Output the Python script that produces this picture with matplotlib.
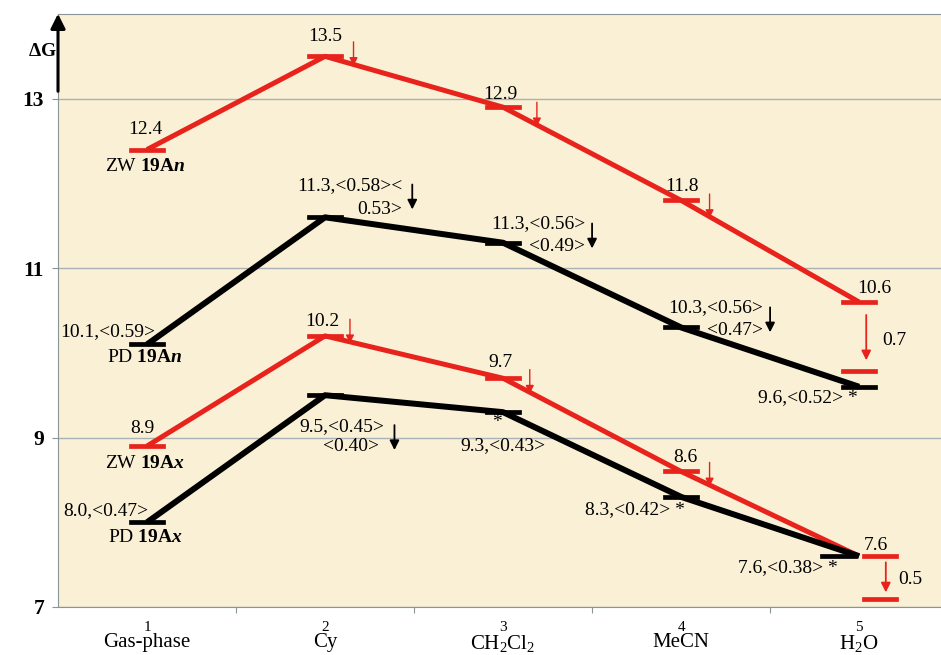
import matplotlib
matplotlib.use("Agg")
import matplotlib.pyplot as plt
import numpy as np

plt.rcParams['font.family'] = 'Liberation Serif'
plt.rcParams['mathtext.fontset'] = 'custom'
plt.rcParams['mathtext.rm'] = 'Liberation Serif'
plt.rcParams['mathtext.it'] = 'Liberation Serif:italic'
plt.rcParams['mathtext.bf'] = 'Liberation Serif:bold'
plt.rcParams['mathtext.bfit'] = 'Liberation Serif:italic:bold'

# data
steps = [1, 2, 3, 4, 5]
solvents = ['Gas-phase', 'Cy', 'CH$_2$Cl$_2$', 'MeCN', 'H$_2$O']
zw_an = [12.4, 13.5, 12.9, 11.8, 10.6]
pd_an = [10.1, 11.6, 11.3, 10.3, 9.6]
zw_ax = [8.9, 10.2, 9.7, 8.6, 7.6]
pd_ax = [8.0, 9.5, 9.3, 8.3, 7.6]
gap_an = 0.7   # ZW 19An -> lower level in water
gap_ax = 0.5   # ZW 19Ax -> lower level in water

RED = '#E8231C'
BG = '#FAF0D6'

fig = plt.figure(figsize=(9.41, 6.55), dpi=100)
ax = fig.add_axes([58 / 941, 48 / 655, 883 / 941, 593 / 655])
ax.set_facecolor(BG)
ax.set_xlim(0.5, 5.46)
ax.set_ylim(7, 14)

# level bars (short horizontal strokes) + connecting lines
def series(vals, color, lw, offsets=None):
    x = np.array(steps, dtype=float)
    ax.plot(x, vals, color=color, lw=lw, solid_capstyle='butt', zorder=3)
    off = offsets if offsets is not None else [0] * len(vals)
    for xi, yi, o in zip(x, vals, off):
        ax.plot([xi + o - 0.09, xi + o + 0.09], [yi, yi], color=color, lw=3.4, zorder=4)

series(zw_an, RED, 3.6)
series(pd_an, 'black', 4.3)
series(zw_ax, RED, 3.6, [0, 0, 0, 0, 0.12])
series(pd_ax, 'black', 4.3, [0, 0, 0, 0, -0.12])

# lower levels in water
ax.plot([4.91, 5.09], [zw_an[4] - gap_an - 0.12] * 2, color=RED, lw=3.4)
ax.plot([5.03, 5.21], [zw_ax[4] - gap_ax] * 2, color=RED, lw=3.4)
ax.annotate('', xy=(5.04, zw_an[4] - gap_an - 0.02), xytext=(5.04, zw_an[4] - 0.12),
            arrowprops=dict(arrowstyle='-|>', color=RED, lw=1.3, mutation_scale=14))
ax.annotate('', xy=(5.15, zw_ax[4] - gap_ax + 0.04), xytext=(5.15, zw_ax[4] - 0.04),
            arrowprops=dict(arrowstyle='-|>', color=RED, lw=1.3, mutation_scale=14))
ax.text(5.13, zw_an[4] - gap_an / 2 - 0.1, f'{gap_an}', fontsize=14, va='center')
ax.text(5.22, zw_ax[4] - gap_ax / 2 - 0.02, f'{gap_ax}', fontsize=14, va='center')

# small red arrows on ZW curves
def red_arrow(vals, i, dx):
    y = vals[i] + (vals[i + 1] - vals[i]) * dx
    ax.annotate('', xy=(steps[i] + dx, y - 0.05), xytext=(steps[i] + dx, y + 0.3),
                arrowprops=dict(arrowstyle='-|>', color=RED, lw=1.0, mutation_scale=12),
                zorder=5)

for i, dx in [(1, 0.16), (2, 0.19), (3, 0.16)]:
    red_arrow(zw_an, i, dx)
for i, dx in [(1, 0.14), (2, 0.15), (3, 0.16)]:
    red_arrow(zw_ax, i, dx)

# black arrows next to labels
def black_arrow(x, ytop):
    ax.annotate('', xy=(x, ytop - 0.36), xytext=(x, ytop),
                arrowprops=dict(arrowstyle='-|>', color='black', lw=1.3, mutation_scale=14))

black_arrow(2.49, pd_an[1] + 0.42)
black_arrow(3.5, pd_an[2] + 0.26)
black_arrow(4.5, pd_an[3] + 0.27)
black_arrow(2.39, pd_ax[1] - 0.32)

fs = 14

def lab(x, y, s, dx, dy, ha='center', **kw):
    ax.annotate(s, (x, y), xytext=(dx, dy), textcoords='offset pixels',
                ha=ha, va='center', fontsize=fs, **kw)

# ZW 19An labels
lab(1, zw_an[0], '12.4', -2, 20)
lab(1, zw_an[0], r'ZW $\mathbf{19A}\mathbfit{n}$', -2, -17)
lab(2, zw_an[1], '13.5', 0, 20)
lab(3, zw_an[2], '12.9', -3, 13)
lab(4, zw_an[3], '11.8', 1, 14)
lab(5, zw_an[4], '10.6', 15, 14)

# PD 19An labels
lab(1, pd_an[0], '10.1,<0.59>', 8, 13, ha='right')
lab(1, pd_an[0], r'PD $\mathbf{19A}\mathbfit{n}$', -2, -13)
lab(2, pd_an[1], '11.3,<0.58><', 77, 32, ha='right')
lab(2, pd_an[1], '0.53>', 77, 8, ha='right')
lab(3, pd_an[2], '11.3,<0.56>', 82, 19, ha='right')
lab(3, pd_an[2], '<0.49>', 82, -4, ha='right')
lab(4, pd_an[3], '10.3,<0.56>', 82, 20, ha='right')
lab(4, pd_an[3], '<0.47>', 82, -3, ha='right')
lab(5, pd_an[4], '9.6,<0.52> *', -1, -11, ha='right')

# ZW 19Ax labels
lab(1, zw_ax[0], '8.9', -5, 18)
lab(1, zw_ax[0], r'ZW $\mathbf{19A}\mathbfit{x}$', -2, -17)
lab(2, zw_ax[1], '10.2', -3, 14)
lab(3, zw_ax[2], '9.7', -3, 16)
lab(4, zw_ax[3], '8.6', 4, 14)
lab(5, zw_ax[4], '7.6', 17, 11)

# PD 19Ax labels
lab(1, pd_ax[0], '8.0,<0.47>', 1, 12, ha='right')
lab(1, pd_ax[0], r'PD $\mathbf{19A}\mathbfit{x}$', -2, -15)
lab(2, pd_ax[1], '9.5,<0.45>', 59, -31, ha='right')
lab(2, pd_ax[1], '<0.40>', 54, -51, ha='right')
lab(3, pd_ax[2], '*', -6, -10)
lab(3, pd_ax[2], '9.3,<0.43>', 42, -33, ha='right')
lab(4, pd_ax[3], '8.3,<0.42> *', 4, -13, ha='right')
lab(5, pd_ax[4], '7.6,<0.38> *', -21, -11, ha='right')

# axes styling
ax.set_yticks([7, 9, 11, 13])
ax.set_yticklabels(['7', '9', '11', '13'], fontsize=15.5, fontweight='bold')
ax.yaxis.grid(True, color='#A9B3B5', lw=1.0)
ax.set_axisbelow(True)
ax.set_xticks([1.5, 2.5, 3.5, 4.5])
ax.set_xticklabels([])
ax.tick_params(axis='x', length=4, color='#8A9496')
ax.tick_params(axis='y', length=4, color='#8A9496', pad=6)
for sp in ['left', 'top', 'bottom']:
    ax.spines[sp].set_color('#8A9496')
ax.spines['right'].set_visible(False)

for s, name in zip(steps, solvents):
    ax.text(s, -0.023, str(s), transform=ax.get_xaxis_transform(),
            ha='center', va='top', fontsize=11)
    ax.text(s, -0.044, name, transform=ax.get_xaxis_transform(),
            ha='center', va='top', fontsize=15)

# y axis arrow and label
ax.annotate('', xy=(0, 1.005), xytext=(0, 0.865), xycoords='axes fraction',
            arrowprops=dict(arrowstyle='-|>', color='black', lw=2.2, mutation_scale=22))
fig.text(42 / 941, 1 - 52 / 655, r'$\mathbf{\Delta}$G', fontsize=14, fontweight='bold',
         ha='center', va='center')

fig.savefig('out.png', dpi=100)
